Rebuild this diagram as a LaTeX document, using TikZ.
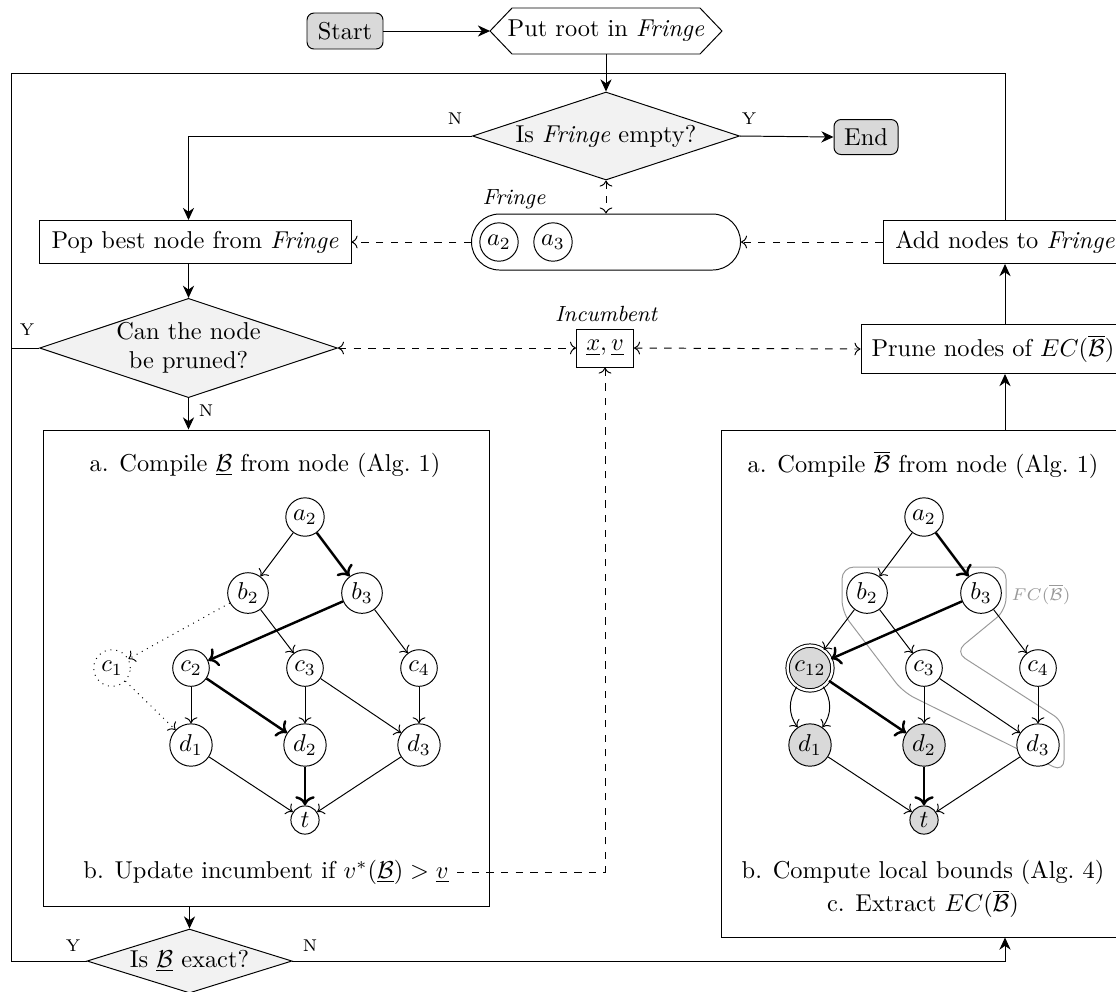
\documentclass[tikz,border=0pt]{standalone}
\usetikzlibrary{shapes.geometric,arrows.meta,calc}
\newdimen\pu \pu=0.41pt
\tikzset{
 flow/.style={-{Stealth[length=5pt,width=4.6pt,inset=1.6pt]}},
 box/.style={draw, rectangle, inner sep=0pt},
 decision/.style={draw, diamond, fill=gray!10, inner sep=0pt},
 term/.style={draw, rounded corners=7\pu, fill=gray!30, inner sep=0pt},
 gnode/.style={draw, circle, inner sep=1.6pt, fill=white},
 gray node/.style={fill=gray!30},
 hl/.style={line width=1pt},
 dlink/.style={dashed, ->},
 yn/.style={font=\scriptsize},
 lbl/.style={font=\small\itshape},
}
\begin{document}
\begin{tikzpicture}[x=1\pu, y=-1\pu]
\useasboundingbox (0,0) rectangle (1116,991);
\clip (0,0) rectangle (1116,991);

% ---- flowchart nodes ----
\node[term, minimum width=76\pu, minimum height=36\pu] (start) at (345,31) {Start};
\node[minimum width=231\pu, minimum height=46\pu, inner sep=0pt] (root) at (606,31) {Put root in \textit{Fringe}};
\draw (root.west) -- ++(22,-23) -- ($(root.east)+(-22,-23)$) -- (root.east) -- ++(-22,23) -- ($(root.west)+(22,23)$) -- cycle;
\node[decision, aspect=3.03, minimum width=267\pu, minimum height=88\pu] (empty) at (606,136) {Is \textit{Fringe} empty?};
\node[term, minimum width=64\pu, minimum height=35\pu] (end) at (866,137) {End};
\node[box, minimum width=312\pu, minimum height=43\pu] (pop) at (195,242) {Pop best node from \textit{Fringe}};
\node[draw, rounded corners=28\pu, minimum width=269\pu, minimum height=56\pu] (fringe) at (606,242) {};
\node[lbl] (fringelbl) at (514,199) {Fringe};
\node[gnode] (fa2) at (499,242) {$a_2$};
\node[gnode] (fa3) at (553,242) {$a_3$};
\node[box, minimum width=244\pu, minimum height=43\pu] (add) at (1005,242) {Add nodes to \textit{Fringe}};
\node[box, minimum width=264\pu, minimum height=49\pu] (prune) at (993,349) {Prune nodes of $EC(\overline{\mathcal{B}})$};
\node[decision, aspect=3.0, minimum width=295\pu, minimum height=98\pu, align=center] (canprune) at (188.5,348) {Can the node\\be pruned?};
\node[box, minimum width=57\pu, minimum height=38\pu] (inc) at (605,348) {$\underline{x},\underline{v}$};
\node[lbl] (inclbl) at (606,314) {Incumbent};
\node[box, minimum width=446\pu, minimum height=476\pu] (lbox) at (266,668) {};
\node[box, minimum width=405\pu, minimum height=507\pu] (rbox) at (923.5,683.5) {};
\node[decision, aspect=3.2, minimum width=205\pu, minimum height=64\pu] (exact) at (189.5,961) {Is $\underline{\mathcal{B}}$ exact?};

\node (la) at (265,465) {a. Compile $\underline{\mathcal{B}}$ from node (Alg.~1)};
\node (lb) at (266,872) {b. Update incumbent if $v^*(\underline{\mathcal{B}}) > \underline{v}$};
\node (ra) at (923,465) {a. Compile $\overline{\mathcal{B}}$ from node (Alg.~1)};
\node (rb) at (923,872) {b. Compute local bounds (Alg.~4)};
\node (rc) at (923,904) {c. Extract $EC(\overline{\mathcal{B}})$};

% ---- Y / N labels ----
\node[yn] (n1) at (455,119) {N};
\node[yn] (y1) at (749,119) {Y};
\node[yn] (y2) at (27,330) {Y};
\node[yn] (n2) at (206,411) {N};
\node[yn] (y3) at (73,946) {Y};
\node[yn] (n3) at (310,946) {N};

% ---- connectors ----
\coordinate (cTL) at (11,73);
\draw[flow] (start) -- (root);
\draw[flow] (root.south) -- (empty.north);
\draw (exact.west) -| (cTL) -| (add.north);
\draw (canprune.west) -- (canprune.west -| cTL);
\draw[flow] (empty.east) -- (end.west);
\draw[flow] (empty.west) -| (pop.north -| canprune.north);
\draw[dlink, <->] (empty.south) -- (fringe.north);
\draw[dlink] (fringe.west) -- (pop.east);
\draw[dlink] (add.west) -- (fringe.east);
\draw[flow] (prune.north -| add.south) -- (add.south);
\draw[flow] (rbox.north -| add.south) -- (prune.south -| add.south);
\draw[flow] (pop.south -| canprune.north) -- (canprune.north);
\draw[flow] (canprune.south) -- (canprune.south |- lbox.north);
\draw[dlink, <->] (canprune.east) -- (inc.west);
\draw[dlink, <->] (inc.east) -- (prune.west);
\draw[dlink] (lb.east) -| (inc.south);
\draw[flow] (lbox.south -| exact.north) -- (exact.north);
\draw[flow] (exact.east) -| (rbox.south -| add.south);

% ---- left graph ----
\node[gnode] (La2) at (305,517) {$a_2$};
\node[gnode] (Lb2) at (248,593) {$b_2$};
\node[gnode] (Lb3) at (362,593) {$b_3$};
\node[gnode, dotted] (Lc1) at (112,668) {$c_1$};
\node[gnode] (Lc2) at (191,668) {$c_2$};
\node[gnode] (Lc3) at (305,668) {$c_3$};
\node[gnode] (Lc4) at (419,668) {$c_4$};
\node[gnode] (Ld1) at (191,745) {$d_1$};
\node[gnode] (Ld2) at (305,745) {$d_2$};
\node[gnode] (Ld3) at (419,745) {$d_3$};
\node[gnode] (Lt) at (305,820) {$t$};
\draw[->] (La2) -- (Lb2);
\draw[->, hl] (La2) -- (Lb3);
\draw[->, dotted] (Lb2) -- (Lc1);
\draw[->] (Lb2) -- (Lc3);
\draw[->, hl] (Lb3) -- (Lc2);
\draw[->] (Lb3) -- (Lc4);
\draw[->, dotted] (Lc1) -- (Ld1);
\draw[->] (Lc2) -- (Ld1);
\draw[->, hl] (Lc2) -- (Ld2);
\draw[->] (Lc3) -- (Ld2);
\draw[->] (Lc3) -- (Ld3);
\draw[->] (Lc4) -- (Ld3);
\draw[->] (Ld1) -- (Lt);
\draw[->, hl] (Ld2) -- (Lt);
\draw[->] (Ld3) -- (Lt);

% ---- right graph ----
\draw[gray!80, rounded corners=12\pu] (842,590) -- (842,567) -- (1006,567) -- (1006,610) -- (955,652) -- (1064,722) -- (1064,772) -- (903,692) -- (842,612) -- cycle;
\node[font=\scriptsize, text=gray!80] (fcl) at (1041,594) {$FC(\overline{\mathcal{B}})$};
\node[gnode] (Ra2) at (924,517) {$a_2$};
\node[gnode] (Rb2) at (867,593) {$b_2$};
\node[gnode] (Rb3) at (981,593) {$b_3$};
\node[gnode, gray node, double, double distance=1pt] (Rc12) at (810,668) {$c_{12}$};
\node[gnode] (Rc3) at (924,668) {$c_3$};
\node[gnode] (Rc4) at (1038,668) {$c_4$};
\node[gnode, gray node] (Rd1) at (810,745) {$d_1$};
\node[gnode, gray node] (Rd2) at (924,745) {$d_2$};
\node[gnode] (Rd3) at (1038,745) {$d_3$};
\node[gnode, gray node] (Rt) at (924,820) {$t$};
\draw[->] (Ra2) -- (Rb2);
\draw[->, hl] (Ra2) -- (Rb3);
\draw[->] (Rb2) -- (Rc12);
\draw[->] (Rb2) -- (Rc3);
\draw[->, hl] (Rb3) -- (Rc12);
\draw[->] (Rb3) -- (Rc4);
\draw[->] (Rc12) to[bend left=35] (Rd1);
\draw[->] (Rc12) to[bend right=35] (Rd1);
\draw[->, hl] (Rc12) -- (Rd2);
\draw[->] (Rc3) -- (Rd2);
\draw[->] (Rc3) -- (Rd3);
\draw[->] (Rc4) -- (Rd3);
\draw[->] (Rd1) -- (Rt);
\draw[->, hl] (Rd2) -- (Rt);
\draw[->] (Rd3) -- (Rt);
\end{tikzpicture}
\end{document}
